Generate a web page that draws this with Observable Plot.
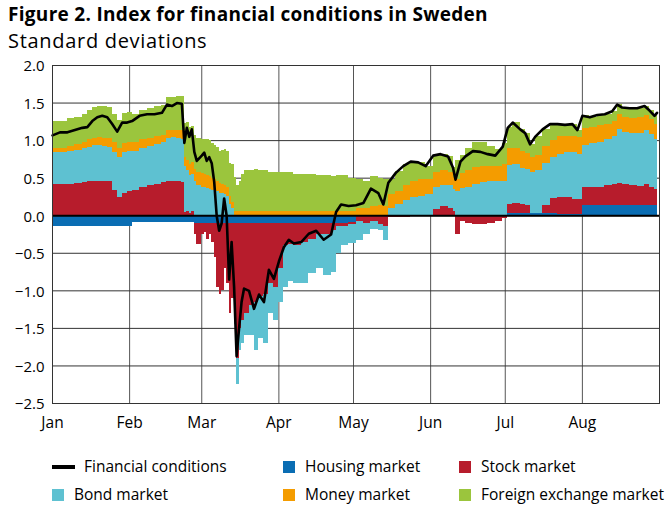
<!DOCTYPE html>
<html><head><meta charset="utf-8">
<script src="https://cdn.jsdelivr.net/npm/d3@7"></script>
<script src="https://cdn.jsdelivr.net/npm/@observablehq/plot@0.6"></script>
<style>
body{margin:0;background:#fff;font-family:"Open Sans",Lato,sans-serif;}
#wrap{position:relative;width:669px;height:506px;overflow:hidden;background:#fff;}
.title{position:absolute;left:8px;top:5px;font-weight:bold;font-size:19px;line-height:19px;color:#000;white-space:nowrap;letter-spacing:0.3px;z-index:2;}
.subtitle{position:absolute;left:8px;top:31px;font-size:20px;line-height:20px;color:#000;white-space:nowrap;letter-spacing:0.7px;z-index:2;}
#chart{position:absolute;left:0;top:45px;z-index:1;}
.leg{position:absolute;font-size:15.5px;white-space:nowrap;line-height:18px;color:#000;}
.sw{position:absolute;}
</style></head>
<body><div id="wrap">
<div id="chart"></div>
<div class="title">Figure 2. Index for financial conditions in Sweden</div>
<div class="subtitle">Standard deviations</div>
</div>
<script>
const dates = ["2020-01-01","2020-01-04","2020-01-07","2020-01-10","2020-01-13","2020-01-15","2020-01-17","2020-01-19","2020-01-21","2020-01-23",
"2020-01-25","2020-01-27","2020-01-29","2020-01-31","2020-02-02","2020-02-05","2020-02-08","2020-02-11","2020-02-14","2020-02-16",
"2020-02-18","2020-02-20","2020-02-22","2020-02-23","2020-02-24","2020-02-25","2020-02-26","2020-02-27","2020-02-28","2020-03-01",
"2020-03-02","2020-03-03","2020-03-04","2020-03-05","2020-03-06","2020-03-07","2020-03-08","2020-03-09","2020-03-10","2020-03-11",
"2020-03-12","2020-03-13","2020-03-14","2020-03-15","2020-03-16","2020-03-17","2020-03-18","2020-03-20","2020-03-22","2020-03-24",
"2020-03-26","2020-03-28","2020-03-30","2020-04-01","2020-04-03","2020-04-05","2020-04-07","2020-04-10","2020-04-13","2020-04-16",
"2020-04-19","2020-04-22","2020-04-24","2020-04-26","2020-04-29","2020-05-02","2020-05-05","2020-05-08","2020-05-11","2020-05-13",
"2020-05-15","2020-05-18","2020-05-21","2020-05-24","2020-05-27","2020-05-30","2020-06-02","2020-06-05","2020-06-08","2020-06-10",
"2020-06-11","2020-06-13","2020-06-15","2020-06-18","2020-06-21","2020-06-24","2020-06-27","2020-06-30","2020-07-02","2020-07-04",
"2020-07-07","2020-07-09","2020-07-11","2020-07-13","2020-07-16","2020-07-19","2020-07-22","2020-07-25","2020-07-28","2020-07-30",
"2020-08-01","2020-08-04","2020-08-07","2020-08-10","2020-08-13","2020-08-15","2020-08-17","2020-08-20","2020-08-23","2020-08-26",
"2020-08-28","2020-08-30","2020-08-31"];

const housing = [-.14,-.14,-.14,-.14,-.14,-.14,-.14,-.14,-.14,-.14,
-.14,-.14,-.14,-.14,-.09,-.09,-.09,-.09,-.09,-.09,
-.09,-.09,-.09,-.09,-.09,-.09,-.09,-.10,-.10,-.10,
-.10,-.10,-.10,-.10,-.10,-.10,-.10,-.10,-.10,-.10,
-.10,-.10,-.10,-.10,-.10,-.10,-.10,-.10,-.10,-.10,
-.10,-.10,-.10,-.10,-.10,-.10,-.10,-.10,-.10,-.10,
-.10,-.10,-.10,-.10,-.09,0,0,0,0,0,
0,0,0,0,0,0,0,0,0,0,
0,0,0,0,0,0,0,0,.03,.03,
.03,.03,.03,.03,.03,.03,.02,.02,.02,.02,
.13,.13,.13,.13,.13,.13,.13,.13,.13,.13,
.13,.13,.13];

const stock = [.42,.42,.42,.43,.44,.45,.46,.46,.46,.45,
.34,.24,.30,.32,.33,.37,.40,.42,.44,.46,
.46,.45,.44,.04,.05,.03,.05,-.15,-.28,-.15,
-.12,-.22,-.15,-.25,-.45,-.85,-.95,-.90,-.60,-.80,
-1.20,-1.00,-1.30,-1.80,-1.40,-1.30,-1.20,-1.10,-1.05,-.98,
-.95,-.80,-.85,-.60,-.30,-.28,-.30,-.25,-.22,-.15,
-.15,-.10,-.05,-.05,-.03,-.08,-.10,-.08,-.12,-.15,
-.03,-.02,-.02,0,0,0,.08,.12,.10,.05,
-.25,-.08,-.10,-.12,-.12,-.10,-.08,-.04,.12,.13,
.12,.10,0,0,.10,.20,.22,.22,.20,.20,
.25,.25,.25,.27,.28,.30,.28,.27,.26,.28,
.25,.22,.15];

const bond = [.42,.42,.43,.44,.45,.46,.47,.47,.46,.46,
.50,.53,.54,.53,.52,.52,.52,.53,.54,.57,
.58,.58,.58,.62,.55,.50,.50,.45,.40,.38,
.38,.36,.35,.34,.33,.32,.30,.30,.28,.25,
.15,.10,-.05,-.35,-.30,-.30,-.30,-.40,-.65,-.55,
-.65,-.40,-.45,-.45,-.55,-.50,-.50,-.55,-.45,-.45,
-.55,-.55,-.35,-.25,-.25,-.25,-.15,-.10,-.08,-.18,
.10,.15,.20,.24,.26,.28,.30,.28,.30,.30,
.32,.36,.38,.42,.44,.45,.46,.46,.52,.52,
.48,.48,.55,.57,.57,.55,.58,.60,.62,.60,
.55,.58,.60,.62,.64,.72,.70,.70,.70,.72,
.70,.66,.72];

const money = [.06,.06,.07,.08,.09,.10,.10,.11,.11,.12,
.13,.13,.12,.13,.12,.12,.11,.10,.09,.10,
.10,.11,.12,.12,.14,.15,.16,.17,.18,.18,
.17,.17,.17,.16,.15,.14,.13,.12,.12,.12,
.10,.08,.06,.05,.05,.05,.05,.05,.05,.05,
.05,.05,.05,.05,.05,.05,.05,.05,.05,.05,
.05,.05,.05,.05,.05,.10,.10,.12,.14,.12,
.18,.17,.20,.22,.22,.20,.20,.20,.18,.16,
.16,.20,.22,.22,.22,.20,.20,.22,.22,.22,
.22,.22,.20,.20,.22,.22,.23,.22,.22,.22,
.23,.22,.22,.20,.20,.20,.20,.20,.22,.20,
.20,.20,.22];

const fx = [.36,.36,.37,.36,.37,.39,.41,.42,.42,.41,
.38,.37,.40,.40,.38,.39,.40,.40,.40,.44,
.43,.45,.45,.45,.50,.50,.48,.45,.45,.45,
.46,.48,.48,.46,.45,.45,.42,.45,.48,.48,
.45,.50,.45,.35,.40,.50,.55,.55,.56,.55,
.55,.53,.52,.52,.52,.52,.50,.50,.50,.48,
.48,.47,.48,.48,.45,.38,.35,.40,.36,.36,
.20,.27,.28,.26,.23,.18,.22,.22,.21,.13,
.25,.24,.29,.34,.31,.27,.22,.28,.28,.34,
.30,.27,.17,.25,.23,.22,.17,.15,.16,.10,
.17,.13,.14,.13,.14,.13,.13,.13,.12,.13,
.12,.12,.15];

const financialConditions = [1.07,1.11,1.11,1.14,1.17,1.18,1.26,1.31,1.33,1.31,
1.22,1.12,1.24,1.24,1.26,1.33,1.35,1.35,1.37,1.48,
1.46,1.50,1.49,0.97,1.17,1.05,1.15,0.85,0.73,0.80,
0.84,0.73,0.78,0.70,0.45,0.0,-0.20,-0.10,0.23,0.0,
-0.85,-0.35,-0.95,-1.87,-1.50,-1.15,-0.97,-1.00,-1.24,-1.05,
-1.15,-0.72,-0.84,-0.61,-0.42,-0.32,-0.37,-0.35,-0.24,-0.20,
-0.32,-0.25,0.05,0.15,0.13,0.14,0.17,0.36,0.30,0.15,
0.44,0.57,0.66,0.72,0.71,0.66,0.80,0.82,0.79,0.64,
0.48,0.72,0.79,0.86,0.85,0.82,0.80,0.92,1.17,1.24,
1.15,1.10,0.95,1.05,1.15,1.22,1.22,1.21,1.22,1.14,
1.33,1.31,1.34,1.35,1.39,1.48,1.44,1.43,1.43,1.46,
1.40,1.33,1.37];

const seriesNames = ["Housing market","Stock market","Bond market","Money market","Foreign exchange market"];
const seriesColors = ["#0a6db3","#b71c2c","#5ec1d1","#f49c00","#9bc53d"];
const seriesValues = [housing, stock, bond, money, fx];
const lineName = "Financial conditions";
const monthLabels = ["Jan","Feb","Mar","Apr","May","Jun","Jul","Aug"];
const yTicks = [-2.5,-2,-1.5,-1,-0.5,0,0.5,1,1.5,2];

const parsed = dates.map(d => d3.isoParse(d));
const rows = [];
parsed.forEach((dt, i) => {
  seriesNames.forEach((s, k) => rows.push({date: dt, series: s, value: seriesValues[k][i]}));
});
const lineRows = parsed.map((dt, i) => ({date: dt, value: financialConditions[i]}));
const monthTicks = d3.utcMonth.range(new Date(Date.UTC(2020,0,1)), new Date(Date.UTC(2020,8,1)));

const chart = Plot.plot({
  width: 669, height: 398,
  marginTop: 20, marginBottom: 40, marginLeft: 52, marginRight: 10,
  style: {fontFamily: "'Open Sans', Lato, sans-serif", fontSize: "15.5px", color: "#000", background: "transparent", overflow: "visible"},
  x: {type: "utc", domain: [new Date(Date.UTC(2020,0,1)), new Date(Date.UTC(2020,8,1))], label: null},
  y: {domain: [-2.5, 2], label: null},
  color: {domain: seriesNames, range: seriesColors},
  marks: [
    Plot.gridX(monthTicks, {stroke: "#555", strokeOpacity: 1}),
    Plot.gridY(yTicks, {stroke: "#333", strokeOpacity: 1}),
    Plot.areaY(rows, Plot.stackY({x: "date", y: "value", fill: "series", z: "series", order: seriesNames, curve: "step-after", shapeRendering: "crispEdges"})),
    Plot.ruleY([0], {stroke: "#000", strokeWidth: 2}),
    Plot.lineY(lineRows, {x: "date", y: "value", stroke: "#000", strokeWidth: 2.6, strokeLinejoin: "round"}),
    Plot.frame({stroke: "#333"}),
    Plot.axisX(monthTicks, {tickFormat: d => monthLabels[d.getUTCMonth()], tickSize: 0, tickPadding: 13, label: null, fontSize: 15.5}),
    Plot.axisY(yTicks, {tickFormat: d3.format(".1f"), tickSize: 0, tickPadding: 8, label: null, fontSize: 15, dy: 1})
  ]
});
document.getElementById("chart").appendChild(chart);

// legend
const wrap = document.getElementById("wrap");
const legendItems = [{name: lineName, color: "#000", line: true}].concat(seriesNames.map((s, k) => ({name: s, color: seriesColors[k], line: false})));
const colX = [52, 283, 459], rowY = [467, 495];
legendItems.forEach((it, i) => {
  const x = colX[i % 3], y = rowY[Math.floor(i / 3)];
  const sw = document.createElement("div");
  sw.className = "sw";
  sw.style.background = it.color;
  if (it.line) { sw.style.left = x + "px"; sw.style.top = (y - 2) + "px"; sw.style.width = "23px"; sw.style.height = "4px"; }
  else { sw.style.left = x + "px"; sw.style.top = (y - 6) + "px"; sw.style.width = "12px"; sw.style.height = "12px"; }
  wrap.appendChild(sw);
  const t = document.createElement("div");
  t.className = "leg";
  t.textContent = it.name;
  t.style.left = (x + (it.line ? 32 : 22)) + "px";
  t.style.top = (y - 10) + "px";
  wrap.appendChild(t);
});
</script>
</body></html>
